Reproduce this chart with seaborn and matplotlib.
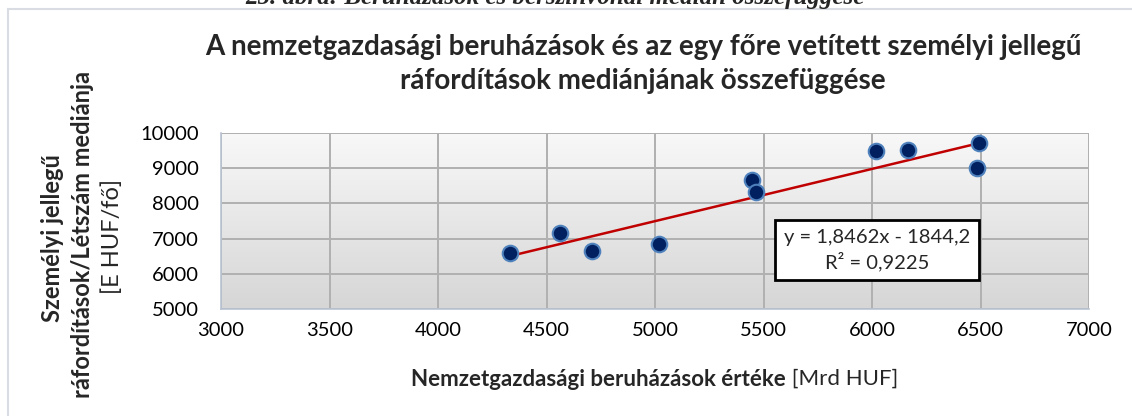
import matplotlib
matplotlib.use("Agg")
import matplotlib.pyplot as plt
import seaborn as sns
import numpy as np
import pandas as pd
from matplotlib.colors import LinearSegmentedColormap
from matplotlib.patches import Rectangle

# adatok leolvasva az abrarol
beruhazas = [4330, 4560, 4710, 5020, 5445, 5465, 6020, 6165, 6495, 6485]
median = [6580, 7150, 6650, 6840, 8665, 8325, 9480, 9510, 9710, 9015]
x_ticks = [3000, 3500, 4000, 4500, 5000, 5500, 6000, 6500, 7000]
y_ticks = [5000, 6000, 7000, 8000, 9000, 10000]

egyenlet = "y = 1,8462x - 1844,2\nR² = 0,9225"
cim = "A nemzetgazdasági beruházások és az egy főre vetített személyi jellegű\nráfordítások mediánjának összefüggése"
abra_felirat = "25. ábra: Beruházások és bérszínvonal medián összefüggése"

df = pd.DataFrame({"beruhazas": beruhazas, "median": median})

sns.set_theme(style="white")
plt.rcParams['font.family'] = ['Lato', 'DejaVu Sans']

W, H = 1132, 416
fig = plt.figure(figsize=(W / 100, H / 100), dpi=100)
ax = fig.add_axes([221 / W, 1 - 309 / H, (1089 - 221) / W, (309 - 133) / H])

# chart keret
fig.patches.append(Rectangle((8 / W, -0.1), 1.2, 1 - 9 / H + 0.1, transform=fig.transFigure,
                             fill=False, edgecolor="#d9dde3", linewidth=1.5))

# szurke atmenetes hatter
grad = np.linspace(0, 1, 256).reshape(-1, 1)
cmap = LinearSegmentedColormap.from_list("bg", ["#f8f8f8", "#d6d6d6"])
ax.imshow(grad, extent=[0, 1, 0, 1], transform=ax.transAxes, aspect="auto", cmap=cmap, zorder=0)

sns.regplot(data=df, x="beruhazas", y="median", scatter=False, ci=None, ax=ax,
            line_kws=dict(color="#c00000", linewidth=1.8, zorder=3))
sns.scatterplot(data=df, x="beruhazas", y="median", ax=ax, s=125, color="#002060",
                edgecolor="#4f81bd", linewidth=1.5, zorder=4)

ax.set_xlim(3000, 7000)
ax.set_ylim(5000, 10000)
ax.set_xticks(x_ticks)
ax.set_yticks(y_ticks)
ax.grid(True, color="#b0b0b0", linewidth=1.4)
ax.set_axisbelow(True)
ax.tick_params(length=0, labelsize=14.5, colors="black")
ax.tick_params(axis="y", pad=16)
ax.tick_params(axis="x", pad=9)
for s in ["top", "right"]:
    ax.spines[s].set_visible(False)
for s in ["left", "bottom"]:
    ax.spines[s].set_color("#b9c3d3")
    ax.spines[s].set_linewidth(1.2)
ax.set_xlabel("")
ax.set_ylabel("")

ax.text(0.756, 0.335, egyenlet, transform=ax.transAxes, ha="center", va="center",
        fontsize=14.5, linespacing=1.35, zorder=5,
        bbox=dict(boxstyle="square,pad=0.45", facecolor="white", edgecolor="black", linewidth=2))

fig.text(643 / W, 1 - 64 / H, cim, ha="center", va="center", fontsize=20,
         fontweight="bold", linespacing=1.35)

fig.text(555 / W, 1 - 4 / H, abra_felirat, ha="center", va="baseline", fontsize=18,
         family="Liberation Serif", fontweight="bold", style="italic")

# x tengely cim: felkover + normal resz
fig.canvas.draw()
r = fig.canvas.get_renderer()
xb = fig.text(0, 1 - 379 / H, "Nemzetgazdasági beruházások értéke", fontsize=16,
              fontweight="bold", ha="left", va="center")
xn = fig.text(0, 1 - 379 / H, " [Mrd HUF]", fontsize=16, ha="left", va="center")
wb = xb.get_window_extent(r).width
wn = xn.get_window_extent(r).width
x0 = 655 - (wb + wn) / 2
xb.set_x(x0 / W)
xn.set_x((x0 + wb) / W)

# y tengely cim harom sorban
fig.text(53 / W, 1 - 238 / H, "Személyi jellegű", rotation=90, fontsize=17,
         fontweight="bold", ha="center", va="center")
fig.text(83 / W, 1 - 235 / H, "ráfordítások/Létszám mediánja", rotation=90, fontsize=17,
         fontweight="bold", ha="center", va="center")
fig.text(112 / W, 1 - 236 / H, "[E HUF/fő]", rotation=90, fontsize=17,
         ha="center", va="center")

fig.savefig("out.png", dpi=100)
